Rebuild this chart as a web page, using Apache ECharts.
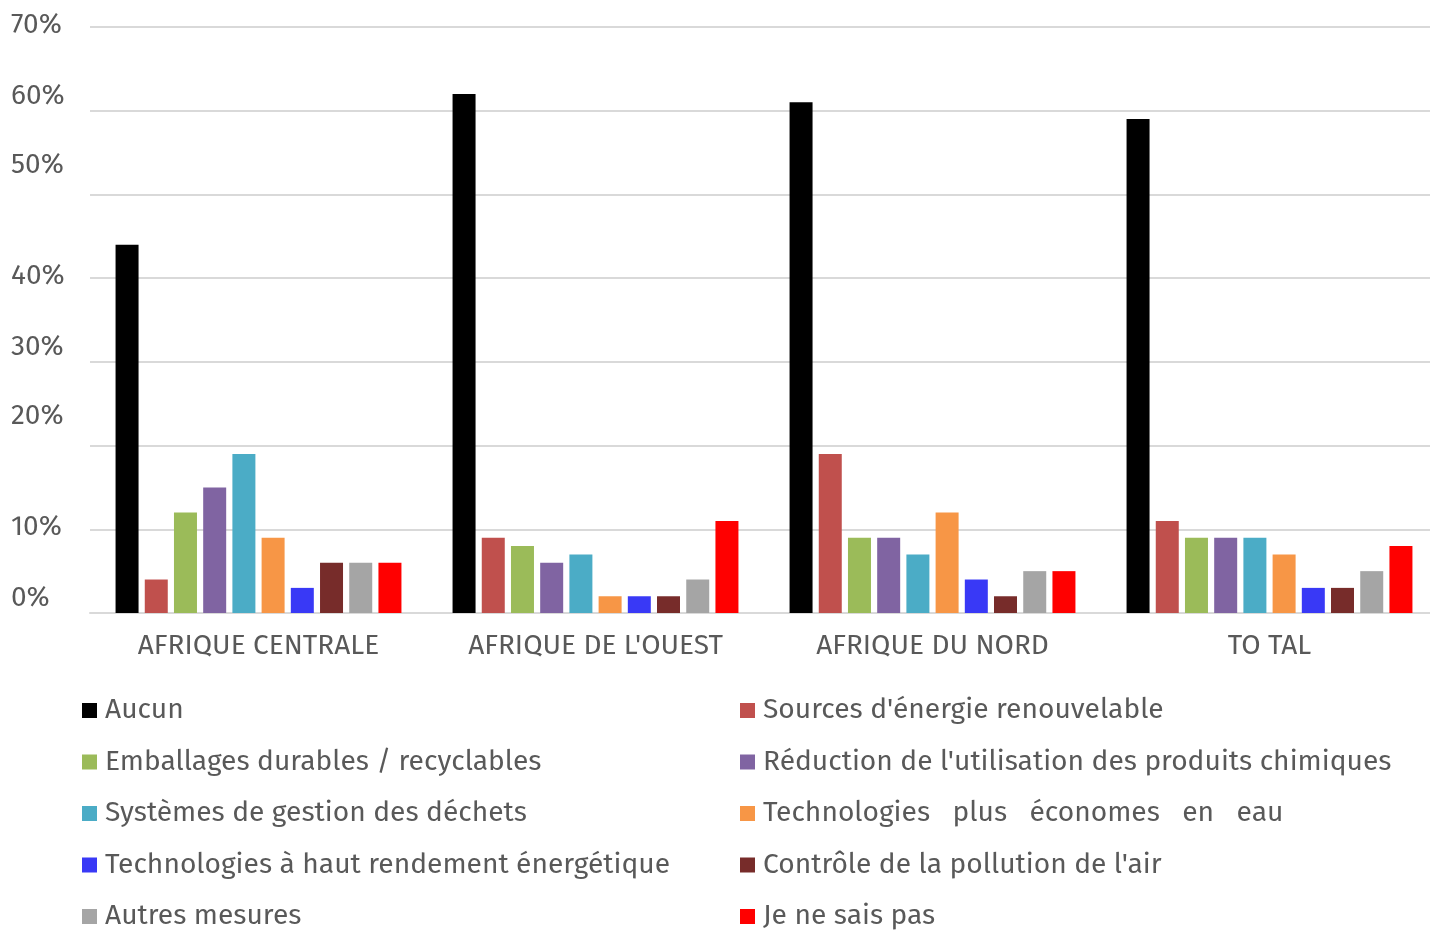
<!DOCTYPE html>
<html>
<head>
<meta charset="utf-8">
<script src="https://cdn.jsdelivr.net/npm/echarts@6/dist/echarts.min.js"></script>
<style>
  html, body { margin: 0; padding: 0; background: #fff; }
  #chart { width: 1430px; height: 931px; }
</style>
</head>
<body>
<div id="chart"></div>
<script>
// Regions on the x axis
const regions = ['AFRIQUE CENTRALE', "AFRIQUE DE L'OUEST", 'AFRIQUE DU NORD', 'TO TAL'];

// Measure names, in drawing order
const measures = [
  'Aucun',
  "Sources d'énergie renouvelable",
  'Emballages durables / recyclables',
  "Réduction de l'utilisation des produits chimiques",
  'Systèmes de gestion des déchets',
  'Technologies   plus   économes   en   eau',
  'Technologies à haut rendement énergétique',
  "Contrôle de la pollution de l'air",
  'Autres mesures',
  'Je ne sais pas'
];

// Share of respondents (%) per measure, one value per region
const aucun        = [44, 62, 61, 59];
const renouvelable = [4, 9, 19, 11];
const emballages   = [12, 8, 9, 9];
const chimiques    = [15, 6, 9, 9];
const dechets      = [19, 7, 7, 9];
const eau          = [9, 2, 12, 7];
const energetique  = [3, 2, 4, 3];
const pollution    = [6, 2, 2, 3];
const autres       = [6, 4, 5, 5];
const nsp          = [6, 11, 5, 8];

// Y axis tick values (%)
const yTicks = [0, 10, 20, 30, 40, 50, 60, 70];

const seriesValues = [aucun, renouvelable, emballages, chimiques, dechets, eau, energetique, pollution, autres, nsp];
const colors = ['#000000', '#C0504D', '#9BBB59', '#8064A2', '#4BACC6', '#F79646', '#3939F6', '#772C2A', '#A5A5A5', '#FF0000'];

const FONT = '"Fira Sans", "Noto Sans", sans-serif';
const TEXT = '#595959';
const FS = 28;

const chart = echarts.init(document.getElementById('chart'), null, { renderer: 'canvas' });

const legendCommon = {
  orient: 'vertical',
  padding: 0,
  height: 400,
  itemWidth: 15,
  itemHeight: 15,
  itemGap: 23.5,
  icon: 'rect',
  selectedMode: false,
  // the extra bottom padding lifts each label slightly above its swatch
  textStyle: { fontFamily: FONT, fontSize: 28.2, color: TEXT, padding: [0, 0, 6, 3] }
};

chart.setOption({
  backgroundColor: '#ffffff',
  animation: false,
  color: colors,
  grid: { left: 90, width: 1348, top: 27, bottom: 318, containLabel: false, outerBoundsMode: 'none' },
  legend: [
    Object.assign({}, legendCommon, {
      left: 82, top: 696.5,
      data: [measures[0], measures[2], measures[4], measures[6], measures[8]]
    }),
    Object.assign({}, legendCommon, {
      left: 740, top: 696.5,
      data: [measures[1], measures[3], measures[5], measures[7], measures[9]]
    })
  ],
  xAxis: {
    type: 'category',
    data: regions,
    axisLine: { show: true, lineStyle: { color: '#D9D9D9', width: 2 } },
    axisTick: { show: false },
    axisLabel: { fontFamily: FONT, fontSize: FS, color: TEXT, margin: 19 }
  },
  yAxis: {
    type: 'value',
    min: yTicks[0],
    max: yTicks[yTicks.length - 1],
    interval: 10,
    axisLine: { show: false },
    axisTick: { show: false },
    splitLine: { lineStyle: { color: '#D9D9D9', width: 2 } },
    axisLabel: {
      align: 'left',
      margin: 79,
      fontFamily: FONT,
      fontSize: FS,
      color: TEXT,
      // labels sit at a staggered height above their gridlines
      formatter: function (v) {
        const k = Math.round(v / 10) % 3;
        return '{s' + k + '|' + v + '%}';
      },
      rich: {
        s0: { fontFamily: FONT, fontSize: FS, color: TEXT, padding: [0, 0, 30, 0] },
        s1: { fontFamily: FONT, fontSize: FS, color: TEXT, padding: [0, 0, 4, 0] },
        s2: { fontFamily: FONT, fontSize: FS, color: TEXT, padding: [0, 0, 58, 0] }
      }
    }
  },
  series: seriesValues.map(function (vals, i) {
    return {
      name: measures[i],
      type: 'bar',
      data: vals,
      barWidth: 23,
      barGap: '27%',
      itemStyle: { color: colors[i] }
    };
  })
});
</script>
</body>
</html>
